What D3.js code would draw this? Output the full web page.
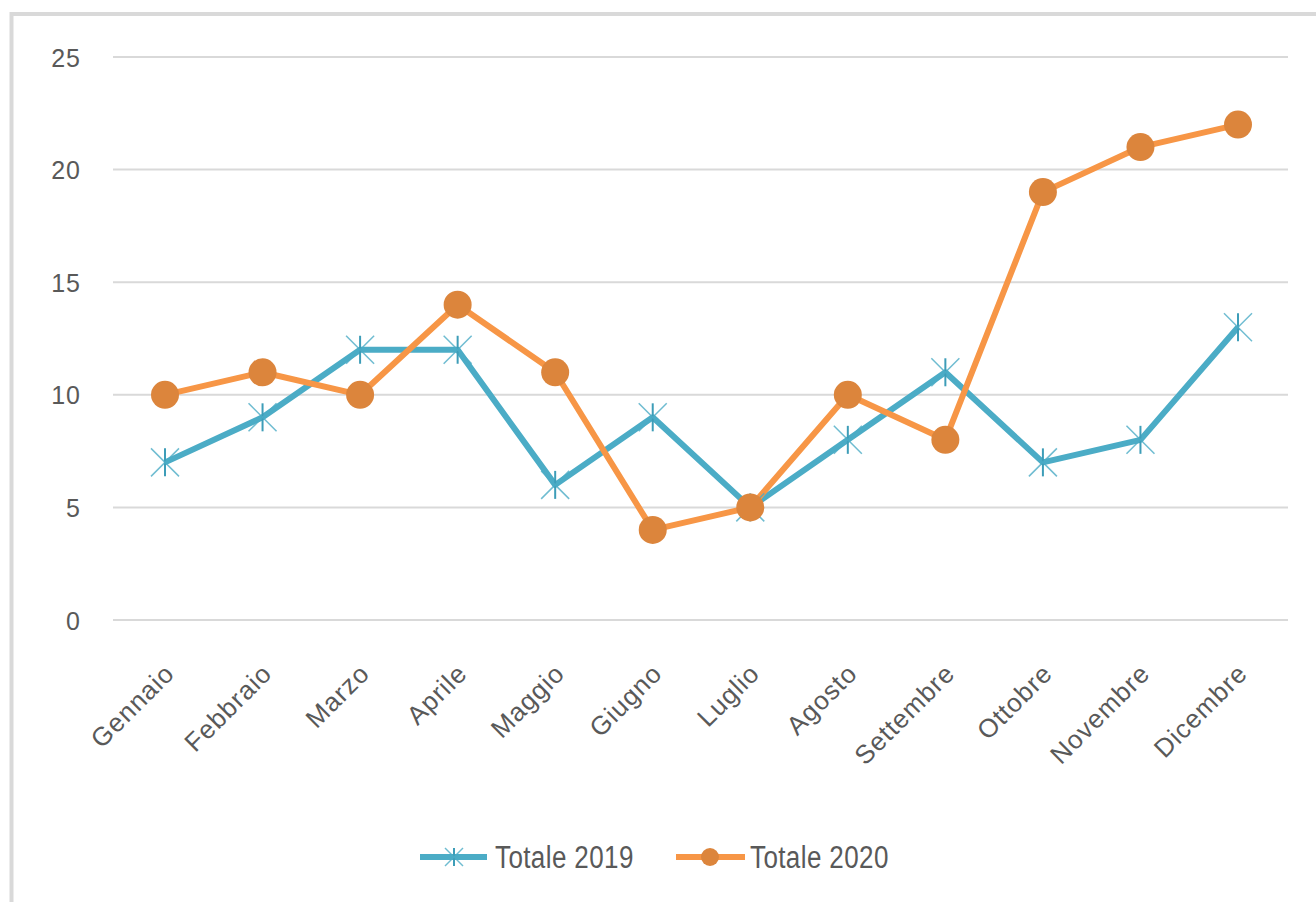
<!DOCTYPE html>
<html>
<head>
<meta charset="utf-8">
<script src="https://cdn.jsdelivr.net/npm/d3@7"></script>
<style>
  body { margin: 0; background: #fff; }
  svg text { font-family: "Liberation Sans", Arial, sans-serif; fill: #595959; }
</style>
</head>
<body>
<div id="chart"></div>
<script>
// Dati
const mesi = ['Gennaio', 'Febbraio', 'Marzo', 'Aprile', 'Maggio', 'Giugno',
              'Luglio', 'Agosto', 'Settembre', 'Ottobre', 'Novembre', 'Dicembre'];
const totale2019 = [7, 9, 12, 12, 6, 9, 5, 8, 11, 7, 8, 13];
const totale2020 = [10, 11, 10, 14, 11, 4, 5, 10, 8, 19, 21, 22];
const yTicks = [0, 5, 10, 15, 20, 25];

const W = 1316, H = 902;

const svg = d3.select('#chart').append('svg')
    .attr('width', W)
    .attr('height', H);

// chart area border (only left and top are visible in the crop)
svg.append('path')
    .attr('d', `M11.5,${H} L11.5,14 L${W},14`)
    .attr('fill', 'none')
    .attr('stroke', '#d9d9d9')
    .attr('stroke-width', 4);

const x = d3.scalePoint()
    .domain(mesi)
    .range([165, 1238]);

const y = d3.scaleLinear()
    .domain([0, 25])
    .range([620, 57]);

// gridlines
svg.append('g')
    .selectAll('line')
    .data(yTicks)
    .enter()
    .append('line')
    .attr('x1', 113)
    .attr('x2', 1288)
    .attr('y1', d => y(d))
    .attr('y2', d => y(d))
    .attr('stroke', '#d9d9d9')
    .attr('stroke-width', 2);

// Y axis labels
const yAxis = svg.append('g')
    .attr('transform', 'translate(81, 0)')
    .call(d3.axisLeft(y).tickValues(yTicks).tickSize(0).tickPadding(0));
yAxis.select('.domain').remove();
yAxis.selectAll('text')
    .style('font-size', '25px')
    .style('letter-spacing', '1px')
    .style('fill', '#595959')
    .attr('dy', '0.36em');

// X axis labels, rotated
const xAxis = svg.append('g')
    .call(d3.axisBottom(x).tickSize(0).tickPadding(0));
xAxis.select('.domain').remove();
xAxis.selectAll('.tick').attr('transform', d => `translate(${x(d) + 11}, 675)`);
xAxis.selectAll('text')
    .style('font-size', '26px')
    .style('letter-spacing', '1px')
    .style('fill', '#595959')
    .attr('text-anchor', 'end')
    .attr('y', 0)
    .attr('dy', '0')
    .attr('transform', 'rotate(-45)');

const line = d3.line()
    .x((d, i) => x(mesi[i]))
    .y(d => y(d));

const c2019 = '#4bacc6', c2020 = '#f79646', m2020 = '#dc853c', m2019 = '#3d9db8';

// Totale 2019
svg.append('path')
    .datum(totale2019)
    .attr('d', line)
    .attr('fill', 'none')
    .attr('stroke', c2019)
    .attr('stroke-width', 6)
    .attr('stroke-linejoin', 'round');

// Totale 2020
svg.append('path')
    .datum(totale2020)
    .attr('d', line)
    .attr('fill', 'none')
    .attr('stroke', c2020)
    .attr('stroke-width', 6)
    .attr('stroke-linejoin', 'round');

// asterisk markers
function asterisk(g, s) {
    g.append('line').attr('x1', 0).attr('x2', 0).attr('y1', -s).attr('y2', s)
        .attr('stroke', m2019).attr('stroke-width', 2);
    g.append('line').attr('x1', -s).attr('x2', s).attr('y1', -s).attr('y2', s)
        .attr('stroke', c2019).attr('stroke-width', 1.5).attr('opacity', 0.8);
    g.append('line').attr('x1', -s).attr('x2', s).attr('y1', s).attr('y2', -s)
        .attr('stroke', c2019).attr('stroke-width', 1.5).attr('opacity', 0.8);
}

totale2019.forEach((v, i) => {
    const g = svg.append('g').attr('transform', `translate(${x(mesi[i])}, ${y(v)})`);
    asterisk(g, 14);
});

svg.selectAll('.dot2020')
    .data(totale2020)
    .enter()
    .append('circle')
    .attr('class', 'dot2020')
    .attr('cx', (d, i) => x(mesi[i]))
    .attr('cy', d => y(d))
    .attr('r', 14)
    .attr('fill', m2020);

// Legend
const legend = svg.append('g').attr('transform', 'translate(0, 857)');

legend.append('line').attr('x1', 420).attr('x2', 487).attr('y1', 0).attr('y2', 0)
    .attr('stroke', c2019).attr('stroke-width', 6);
asterisk(legend.append('g').attr('transform', 'translate(454, 0)'), 9);
legend.append('text').attr('transform', 'translate(495, 11) scale(1, 1.2)')
    .style('font-size', '26px').style('letter-spacing', '0.4px').text('Totale 2019');

legend.append('line').attr('x1', 676).attr('x2', 745).attr('y1', 0).attr('y2', 0)
    .attr('stroke', c2020).attr('stroke-width', 6);
legend.append('circle').attr('cx', 710).attr('cy', 0).attr('r', 9).attr('fill', m2020);
legend.append('text').attr('transform', 'translate(750, 11) scale(1, 1.2)')
    .style('font-size', '26px').style('letter-spacing', '0.4px').text('Totale 2020');
</script>
</body>
</html>
